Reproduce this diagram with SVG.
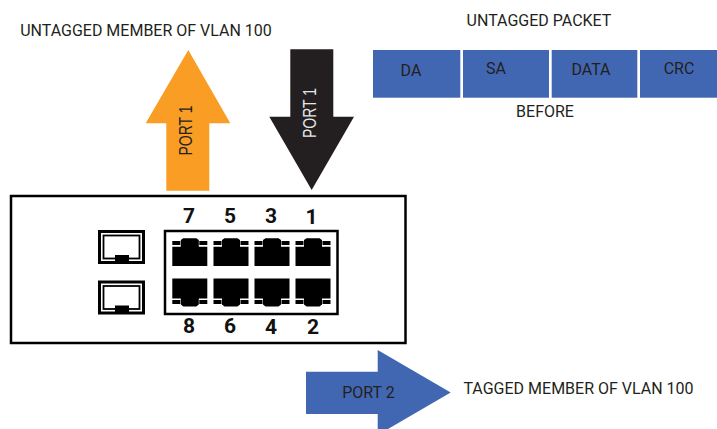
<svg xmlns="http://www.w3.org/2000/svg" width="717" height="429" viewBox="0 0 717 429">
<style>
text{font-family:Roboto,"Liberation Sans",sans-serif;font-size:16px;fill:#231f20}
.m{text-anchor:middle}
.arial{font-family:"Liberation Sans",Arial,sans-serif;font-size:17.500px}
.num{font-size:21px;font-weight:700;fill:#111;text-anchor:middle}
.blue{fill:#4267b2}
.line{fill:#fff;stroke:#000}
</style>
<defs>
<g id="rjup"><path d="M0 8.700H8.500V2L11 0.300H24L26.500 2V8.700H35V28H0Z" fill="#000"/><rect y="3" width="8" height="4" fill="#000"/><rect x="27" y="3" width="8" height="4" fill="#000"/></g>
<g id="rjdn"><path d="M0 0H35V20H8.500H26.500V26L24 28H11L8.500 26V20H0Z" fill="#000"/><rect y="21.500" width="8" height="4" fill="#000"/><rect x="27" y="21.500" width="8" height="4" fill="#000"/></g>
<g id="sfpshape"><rect x="1.500" y="1.500" width="44" height="31" fill="#fff" stroke="#000" stroke-width="3"/><rect x="5.500" y="5.500" width="36" height="23" fill="#fff" stroke="#000" stroke-width="1.800"/><rect x="17" y="25" width="14" height="8" fill="#000"/></g>
</defs>
<g id="label-untagged-member"><text x="146" y="36" class="m">UNTAGGED MEMBER OF VLAN 100</text></g>
<g id="label-untagged-packet"><text x="539" y="26" class="m">UNTAGGED PACKET</text></g>
<g id="packet">
<rect class="blue" x="373" y="50" width="87.300" height="47.700"/><text x="411" y="76" class="m">DA</text>
<rect class="blue" x="463" y="50" width="86" height="47.700"/><text x="496" y="74" class="m">SA</text>
<rect class="blue" x="551.700" y="50" width="85.600" height="47.700"/><text x="591" y="75" class="m">DATA</text>
<rect class="blue" x="640" y="50" width="77" height="47.700"/><text x="679" y="74" class="m">CRC</text>
</g>
<g id="label-before"><text x="545" y="117" class="m">BEFORE</text></g>
<g id="connectors">
<g id="arrow-orange"><path d="M188.300 50L230.300 123.300H209.300V190.700H166.300V123.300H145.700Z" fill="#f99d25"/><text transform="translate(192 130.500) rotate(-90) scale(.8 1)" class="m arial">PORT 1</text></g>
<g id="arrow-black"><path d="M290.300 49.300H333.300V116.700H354L311.700 190L269.300 116.700H290.300Z" fill="#231f20"/><text transform="translate(316 113) rotate(-90) scale(.8 1)" class="m arial" style="fill:#e6e6e6">PORT 1</text></g>
<g id="arrow-blue"><path d="M306 371.700H377.700V350L450.700 392.500L377.700 435V414H306Z" fill="#4267b2"/><text x="368.500" y="398" class="m">PORT 2</text></g>
</g>
<g id="switch">
<rect class="line" x="11" y="196" width="394.500" height="147" stroke-width="2.500"/>
<rect class="line" x="165" y="231" width="172.500" height="83" stroke-width="2.500"/>
</g>
<g id="sfp-top"><use href="#sfpshape" x="98" y="230"/></g>
<g id="sfp-bottom"><use href="#sfpshape" x="98" y="280.500"/></g>
<g id="port-1"><use href="#rjup" x="295.500" y="238"/><text x="311.500" y="224" class="num">1</text></g>
<g id="port-2"><use href="#rjdn" x="295.500" y="278.500"/><text x="313" y="334" class="num">2</text></g>
<g id="port-3"><use href="#rjup" x="254.500" y="238"/><text x="271" y="223" class="num">3</text></g>
<g id="port-4"><use href="#rjdn" x="254.500" y="278.500"/><text x="271" y="334" class="num">4</text></g>
<g id="port-5"><use href="#rjup" x="213.500" y="238"/><text x="230" y="223" class="num">5</text></g>
<g id="port-6"><use href="#rjdn" x="213.500" y="278.500"/><text x="230" y="333" class="num">6</text></g>
<g id="port-7"><use href="#rjup" x="172.300" y="238"/><text x="189" y="223" class="num">7</text></g>
<g id="port-8"><use href="#rjdn" x="172.300" y="278.500"/><text x="189" y="333" class="num">8</text></g>
<g id="label-tagged-member"><text x="578.500" y="394" class="m">TAGGED MEMBER OF VLAN 100</text></g>
</svg>
